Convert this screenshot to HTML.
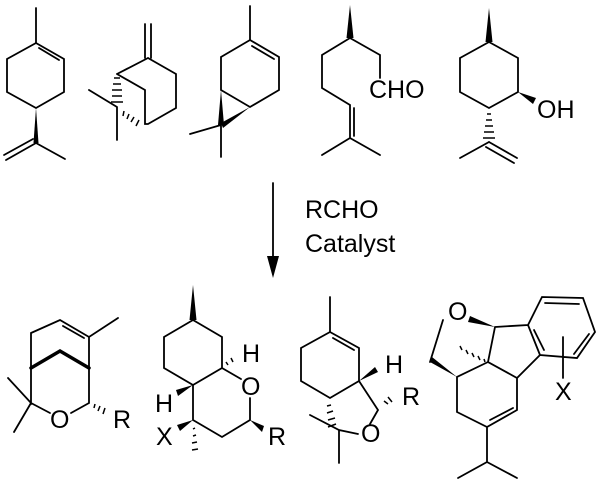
<!DOCTYPE html>
<html><head><style>
html,body{margin:0;padding:0;background:#fff;width:600px;height:485px;overflow:hidden}
svg{display:block}
text{font-family:"Liberation Sans",Arial,sans-serif;fill:#000}
</style></head><body>
<svg width="600" height="485" viewBox="0 0 600 485" xmlns="http://www.w3.org/2000/svg">
<g stroke="#000" stroke-width="1.8" fill="none" stroke-linecap="round">
<path d="M36,8 L36,43"/>
<path d="M36,43 L64,59 L64,92 L36,108 L7,92 L7,59 Z"/>
<path d="M39,48 L59,60"/>
<path d="M36,143 L65,159 M36,143 L6,160 M33,139 L4,155"/>
<path d="M145,24 L145,58 M151,24 L151,58"/>
<path d="M148,58 L117,74 M148,58 L176,74 L176,108 L148,124 L145,124 L145,90 L117,74 M117,107 L89,90 M117,107 L117,140"/>
<path d="M250,6 L250,40"/>
<path d="M250,40 L279,57 L279,90 L250,107 L221,90 L221,57 Z M252,46 L274,59 M221,125 L190,134 M221,125 L221,157"/>
<path d="M350,38 L380,55 L380,78 M350,38 L322,55 L322,88 L350,105 L350,138 L322,155 M350,138 L380,155 M354,108 L354,136"/>
<path d="M489,42 L518,58 L518,92 L489,108 L460,92 L460,58 Z M489,142 L460,158 M489,142 L517,158 M486,147 L514,163"/>
<path d="M273,183 L273,262"/>
<path d="M31,333 L60,320 L89,337 L118,318 M63,326 L84,338 M89,337 L89,368 M31,333 L31,368 M31,368 L31,403 L8,378 M31,403 L14,432 M31,403 L50,413 M71,413 L89,403 L89,368"/>
<path d="M31,368 L60,351 L89,368" stroke-width="3.5"/>
<path d="M193,320 L222,337 L222,368 L193,385 L164,368 L164,337 Z M222,368 L241,379 M250,398 L250,420 L222,437 L193,420 L193,385"/>
<path d="M330,297 L330,332"/>
<path d="M330,332 L359,348 L359,381 L330,398 L301,381 L301,348 Z M333,338 L354,350 M359,381 L378,410 L370,424 M358,434 L339,430 L310,415 M339,430 L339,463"/>
<path d="M443,320 L430,362 M495,327 L528,325 L542,297 L583,298 L595,332 L577,358 L540,355 L528,325 M545,303 L579,304 M589,334 L574,354 M534,330 L544,350 M495,327 L488,362 L517,378 L540,355 M488,362 L457,377 L457,412 L487,427 L517,410 L517,378 M490,420 L513,408 M487,427 L487,462 L458,478 M487,462 L517,478 M563,337 L563,378"/>
</g>
<g fill="#000">
<polygon points="36,108 33.5,143 38.5,143"/>
<polygon points="221,90 218,125 224,125"/>
<polygon points="250,107 221,123 223,128"/>
<polygon points="350,5 346.5,38 353.5,38"/>
<polygon points="489,8 485.5,42 492.5,42"/>
<polygon points="518,92 536,98 533,104"/>
<polygon points="273,278 267,256 279,256"/>
<polygon points="193,285 189.5,320 196.5,320"/>
<polygon points="193,385 176,390 178,396"/>
<polygon points="193,420 177,425 180,431"/>
<polygon points="250,420 264,426 262,432"/>
<polygon points="359,381 375,367 378,372"/>
<polygon points="470,316 495,327 468,322"/>
<polygon points="430,362 457,377 432,357"/>
</g>
<g stroke="#000" stroke-width="1.5">
<path d="M114,78 L120,78 M113,84 L121,84 M112,90 L122,90 M112,96 L122,96 M111,102 L123,102"/>
<path d="M124,111 L123,116 M129,114 L127,119 M134,117 L131,122 M139,120 L136,126"/>
<path d="M487,114 L491,114 M486,120 L492,120 M485,126 L493,126 M484,132 L494,132 M483,138 L495,138"/>
<path d="M95,404 L94,408 M100,406 L98,411 M105,408 L103,414"/>
<path d="M226,362 L228,365 M231,358 L233,362"/>
<path d="M195,428 L193,429 M196,435 L193,436 M197,442 L192,443 M198,449 L192,450"/>
<path d="M384,401 L388,404 M388,397 L392,402"/>
<path d="M331,405 L327,406 M333,411 L327,413 M335,418 L328,420 M336,424 L328,427"/>
<path d="M484,359 L485,362 M478,356 L480,360 M472,353 L474,357 M466,350 L468,354 M460,346 L462,350"/>
</g>
<g font-size="25">
<text x="369" y="98">CHO</text>
<text x="537" y="118">OH</text>
<text x="305" y="218">RCHO</text>
<text x="305" y="252">Catalyst</text>
<text x="50" y="428">O</text>
<text x="113" y="428">R</text>
<text x="242" y="362">H</text>
<text x="241" y="395">O</text>
<text x="155" y="412">H</text>
<text x="156" y="445">X</text>
<text x="268" y="445">R</text>
<text x="385" y="373">H</text>
<text x="402" y="405">R</text>
<text x="361" y="442">O</text>
<text x="448" y="320">O</text>
<text x="555" y="400">X</text>
</g>
</svg>
</body></html>
